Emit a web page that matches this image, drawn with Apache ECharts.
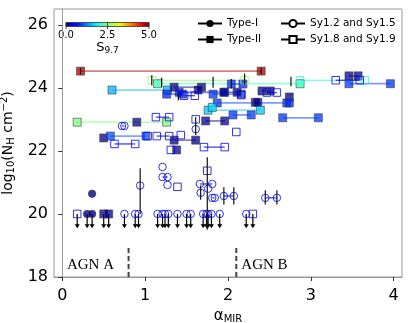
<!DOCTYPE html>
<html>
<head>
<meta charset="utf-8">
<script src="https://cdn.jsdelivr.net/npm/echarts@6/dist/echarts.min.js"></script>
<style>
html, body { margin: 0; padding: 0; background: #fff; }
#chart { width: 415px; height: 323px; }
</style>
</head>
<body>
<div id="chart"></div>
<script>
// sources: [alpha_1, alpha_2, log NH, S9.7]
var typeOne = [[0.36, 0.36, 20.64, 0.05]];
var typeTwo = [
  [0.22, 2.40, 24.53, 4.8], [1.15, 2.87, 24.13, 2.1], [0.60, 1.27, 23.93, 1.5],
  [1.35, 1.68, 24.02, 0.1], [1.26, 1.45, 23.80, 0.8], [1.41, 1.96, 23.86, 0.7],
  [1.64, 1.64, 23.93, 0.05], [2.04, 2.18, 24.12, 0.8], [1.82, 2.16, 23.80, 0.9],
  [1.95, 2.11, 23.86, 0.05], [2.41, 2.51, 23.90, 0.05], [2.74, 2.74, 23.71, 0.05],
  [1.87, 2.71, 23.52, 0.9], [2.33, 2.36, 23.54, 0.05], [2.74, 2.74, 23.52, 0.8],
  [1.76, 2.39, 23.29, 1.6], [1.81, 1.81, 23.38, 1.7], [2.06, 2.28, 23.14, 0.9],
  [2.66, 3.09, 23.05, 0.9], [3.46, 3.57, 24.38, 0.1], [3.46, 3.96, 24.13, 0.9],
  [0.18, 1.26, 22.91, 2.5], [0.90, 0.90, 22.91, 0.05], [1.73, 1.96, 22.95, 0.1],
  [0.50, 0.50, 22.41, 0.05], [0.58, 1.01, 22.47, 1.0], [1.38, 1.38, 22.03, 0.05],
  [1.35, 1.61, 22.34, 0.05]
];
var syOneFive = [
  [0.72, 0.75, 22.79, 0.4], [1.61, 1.61, 22.69, 0.2], [1.21, 1.21, 21.49, 0.4],
  [1.21, 1.27, 21.17, 0.4], [1.27, 1.27, 20.92, 0.4], [0.94, 0.94, 20.90, 0.4],
  [1.66, 1.81, 20.95, 0.5], [1.67, 1.67, 20.67, 0.4], [1.76, 1.76, 20.80, 0.4],
  [1.81, 1.84, 20.51, 0.4], [1.95, 2.07, 20.57, 0.5], [2.45, 2.59, 20.51, 0.5]
];
var syOneNine = [
  [1.08, 2.20, 24.24, 2.6], [2.87, 3.65, 24.24, 1.9], [3.30, 3.59, 24.24, 0.5],
  [1.47, 1.60, 23.75, 0.5], [2.16, 2.16, 23.77, 0.5], [2.47, 2.59, 23.85, 0.5],
  [1.13, 1.29, 23.07, 0.5], [1.61, 1.61, 23.00, 0.5], [1.14, 1.29, 22.47, 0.5],
  [1.43, 1.43, 22.50, 0.5], [1.03, 1.03, 22.47, 0.5], [0.63, 0.88, 22.22, 0.5],
  [1.31, 1.31, 22.03, 0.5], [1.71, 1.96, 22.12, 0.5], [2.10, 2.10, 22.60, 0.6],
  [1.75, 1.75, 21.37, 0.3], [1.39, 1.39, 20.86, 0.2]
];

// upper limits at log NH = 20: [alpha, S9.7]
var limitY = 20;
var arrowLen = 0.45;
var typeOneLim = [[0.30, 0.05], [0.36, 0.05]];
var typeTwoLim = [[0.50, 0.05], [0.56, 0.05]];
var syOneFiveLim = [
  [0.75, 0.4], [0.88, 0.4], [0.92, 0.4], [1.15, 0.4], [1.21, 0.4], [1.24, 0.4],
  [1.28, 0.4], [1.39, 0.4], [1.50, 0.4], [1.55, 0.4], [1.70, 0.4], [1.74, 0.4],
  [1.76, 0.4], [1.80, 0.4], [1.90, 0.4], [2.22, 0.4]
];
var syOneNineLim = [[0.18, 0.4], [2.30, 0.4]];

// vertical error bars: [alpha, low, high]
var yErr = [
  [0.22, 24.43, 24.63], [2.40, 24.43, 24.63], [1.08, 24.08, 24.40], [1.20, 24.02, 24.32],
  [2.20, 24.10, 24.45], [2.04, 23.98, 24.28], [1.82, 24.00, 24.35], [2.76, 24.05, 24.35],
  [1.40, 23.60, 23.90], [1.61, 22.50, 23.07], [0.94, 20.00, 21.45], [1.75, 19.50, 21.80],
  [1.67, 20.45, 20.90], [1.95, 20.30, 20.85], [2.07, 20.30, 20.85], [2.45, 20.30, 20.75],
  [2.59, 20.30, 20.75]
];

var regionX = [0.8, 2.1];
var regionNames = ['AGN A', 'AGN B'];
var regionLabelX = [0.34, 2.44];
var xTicks = [0, 1, 2, 3, 4];
var yTicks = [18, 20, 22, 24, 26];
var cbarTicks = [0, 2.5, 5];
var sMax = 5;

function jet(v) {
  var t = Math.max(0, Math.min(1, v / sMax));
  function seg(p) {
    for (var i = 1; i < p.length; i++) {
      if (t <= p[i][0]) {
        var f = (t - p[i - 1][0]) / (p[i][0] - p[i - 1][0]);
        return p[i - 1][1] + f * (p[i][1] - p[i - 1][1]);
      }
    }
    return p[p.length - 1][1];
  }
  var r = seg([[0, 0], [0.35, 0], [0.66, 1], [0.89, 1], [1, 0.5]]);
  var g = seg([[0, 0], [0.125, 0], [0.375, 1], [0.64, 1], [0.91, 0], [1, 0]]);
  var b = seg([[0, 0.5], [0.11, 1], [0.34, 1], [0.65, 0], [1, 0]]);
  return 'rgb(' + Math.round(r * 255) + ',' + Math.round(g * 255) + ',' + Math.round(b * 255) + ')';
}

function points(src, lim) {
  var out = [];
  src.forEach(function (r) {
    out.push([r[0], r[2], r[3]]);
    if (r[1] !== r[0]) out.push([r[1], r[2], r[3]]);
  });
  lim.forEach(function (r) { out.push([r[0], limitY, r[1]]); });
  return out;
}
function filledItems(pts) {
  return pts.map(function (p) { return { value: [p[0], p[1]], itemStyle: { color: jet(p[2]) } }; });
}
function openItems(pts) {
  return pts.map(function (p) { return { value: [p[0], p[1]], itemStyle: { borderColor: jet(p[2]) } }; });
}

var pairRows = [];
[[typeOne, 0], [typeTwo, 0], [syOneFive, 1], [syOneNine, 1]].forEach(function (g) {
  g[0].forEach(function (r) {
    if (r[1] !== r[0]) pairRows.push([r[0], r[1], r[2], r[3], g[1]]);
  });
});
var limitRows = [];
[typeOneLim, typeTwoLim, syOneFiveLim, syOneNineLim].forEach(function (l) {
  l.forEach(function (r) { limitRows.push([r[0], limitY]); });
});

var font = 'DejaVu Sans';
var stops = [];
for (var i = 0; i <= 20; i++) stops.push({ offset: i / 20, color: jet(i / 20 * sMax) });

var cbLeft = 66, cbTop = 22.5, cbW = 83, cbH = 4;
var graphics = [{
  type: 'rect', x: cbLeft, y: cbTop, shape: { width: cbW, height: cbH },
  style: { fill: new echarts.graphic.LinearGradient(0, 0, 1, 0, stops), stroke: '#333', lineWidth: 0.8 }
}];
cbarTicks.forEach(function (t) {
  var px = cbLeft + t / sMax * cbW;
  graphics.push({ type: 'line', shape: { x1: px, y1: cbTop, x2: px, y2: cbTop + cbH + 2.5 }, style: { stroke: '#333', lineWidth: 0.8 } });
  graphics.push({ type: 'text', x: px, y: 35, style: { text: t.toFixed(1), fontSize: 10, fontFamily: font, fill: '#000', align: 'center', verticalAlign: 'middle' } });
});
graphics.push({
  type: 'text', x: cbLeft + cbW / 2, y: 48,
  style: {
    text: '{a|S}{b|9.7}', fontFamily: font, fill: '#000', align: 'center', verticalAlign: 'middle',
    rich: { a: { fontSize: 13, lineHeight: 15, fontFamily: font }, b: { fontSize: 9, lineHeight: 7, verticalAlign: 'bottom', fontFamily: font } }
  }
});

var myChart = echarts.init(document.getElementById('chart'), null, { renderer: 'canvas' });

var option = {
  animation: false,
  grid: { left: 54, right: 13, top: 9, bottom: 46, containLabel: false, outerBoundsMode: 'none',
          show: true, borderColor: '#999', borderWidth: 1 },
  xAxis: {
    type: 'value', min: -0.1, max: 4.1,
    name: '{n|α}{s|MIR}', nameLocation: 'middle', nameGap: 25,
    nameTextStyle: {
      rich: { n: { fontSize: 15, lineHeight: 17, fontFamily: font, color: '#000' },
              s: { fontSize: 10, lineHeight: 8, verticalAlign: 'bottom', fontFamily: font, color: '#000' } }
    },
    axisLine: { show: true, lineStyle: { color: '#999' } },
    axisTick: { show: true, customValues: xTicks, length: 4, lineStyle: { color: '#333' } },
    axisLabel: { customValues: xTicks, fontSize: 16, fontFamily: font, color: '#000', margin: 11 },
    splitLine: { show: false }
  },
  yAxis: {
    type: 'value', min: 18, max: 26.5,
    name: '{n|log}{s|10}{n|(N}{s|H}{n| cm}{p|−2}{n|)}', nameLocation: 'middle', nameGap: 32,
    nameTextStyle: {
      rich: { n: { fontSize: 14, lineHeight: 17, fontFamily: font, color: '#000' },
              s: { fontSize: 10, lineHeight: 8, verticalAlign: 'bottom', fontFamily: font, color: '#000' },
              p: { fontSize: 10, lineHeight: 8, verticalAlign: 'top', fontFamily: font, color: '#000' } }
    },
    axisLine: { show: true, lineStyle: { color: '#999' } },
    axisTick: { show: true, customValues: yTicks, length: 4, lineStyle: { color: '#333' } },
    axisLabel: { customValues: yTicks, fontSize: 16, fontFamily: font, color: '#000', margin: 6 },
    splitLine: { show: false }
  },
  legend: [
    { left: 197, top: 18, orient: 'vertical', padding: 0, itemWidth: 24, itemHeight: 9, itemGap: 5,
      data: ['Type-I', 'Type-II'], textStyle: { fontSize: 10.5, fontFamily: font, color: '#000' } },
    { left: 280, top: 18, orient: 'vertical', padding: 0, itemWidth: 24, itemHeight: 9, itemGap: 5,
      data: ['Sy1.2 and Sy1.5', 'Sy1.8 and Sy1.9'], textStyle: { fontSize: 10.5, fontFamily: font, color: '#000' } }
  ],
  graphic: graphics,
  series: [
    { type: 'line', name: 'Type-I', data: [], symbol: 'circle', symbolSize: 7,
      lineStyle: { color: '#000', width: 1.2 }, itemStyle: { color: '#000' } },
    { type: 'line', name: 'Type-II', data: [], symbol: 'rect', symbolSize: 7,
      lineStyle: { color: '#000', width: 1.2 }, itemStyle: { color: '#000' } },
    { type: 'line', name: 'Sy1.2 and Sy1.5', data: [], symbol: 'circle', symbolSize: 7,
      lineStyle: { color: '#000', width: 1.2 }, itemStyle: { color: '#fff', borderColor: '#000', borderWidth: 1 } },
    { type: 'line', name: 'Sy1.8 and Sy1.9', data: [], symbol: 'rect', symbolSize: 7,
      lineStyle: { color: '#000', width: 1.2 }, itemStyle: { color: '#fff', borderColor: '#000', borderWidth: 1 } },
    {
      type: 'custom', name: 'pairs', data: pairRows, encode: { x: [0, 1], y: 2 }, z: 1, silent: true,
      renderItem: function (params, api) {
        var a = api.coord([api.value(0), api.value(2)]);
        var b = api.coord([api.value(1), api.value(2)]);
        var open = api.value(4) === 1;
        return { type: 'line', shape: { x1: a[0], y1: a[1], x2: b[0], y2: b[1] },
          style: { stroke: jet(api.value(3)), lineWidth: open ? 1.2 : 1.8, opacity: open ? 0.8 : 0.5 } };
      }
    },
    {
      type: 'custom', name: 'limits', data: limitRows, encode: { x: 0, y: 1 }, z: 2, silent: true,
      renderItem: function (params, api) {
        var top = api.coord([api.value(0), api.value(1)]);
        var tip = api.coord([api.value(0), api.value(1) - arrowLen]);
        return { type: 'group', children: [
          { type: 'line', shape: { x1: top[0], y1: top[1], x2: tip[0], y2: tip[1] - 2 }, style: { stroke: '#000', lineWidth: 1.2 } },
          { type: 'polygon', shape: { points: [[tip[0] - 2.5, tip[1] - 4], [tip[0] + 2.5, tip[1] - 4], [tip[0], tip[1]]] }, style: { fill: '#000' } }
        ] };
      }
    },
    { type: 'scatter', name: 't1', symbol: 'circle', symbolSize: 7.5, z: 3, data: filledItems(points(typeOne, typeOneLim)),
      itemStyle: { opacity: 0.8, borderColor: 'rgba(60,60,60,0.8)', borderWidth: 1 } },
    { type: 'scatter', name: 't2', symbol: 'rect', symbolSize: 8, z: 3, data: filledItems(points(typeTwo, typeTwoLim)),
      itemStyle: { opacity: 0.75, borderColor: 'rgba(60,60,60,0.8)', borderWidth: 1 } },
    { type: 'scatter', name: 's15', symbol: 'circle', symbolSize: 7.5, z: 3, data: openItems(points(syOneFive, syOneFiveLim)),
      itemStyle: { color: 'rgba(255,255,255,0)', borderWidth: 1, opacity: 0.8 } },
    { type: 'scatter', name: 's19', symbol: 'rect', symbolSize: 7.5, z: 3, data: openItems(points(syOneNine, syOneNineLim)),
      itemStyle: { color: 'rgba(255,255,255,0)', borderWidth: 1, opacity: 0.8 } },
    {
      type: 'custom', name: 'errors', data: yErr, encode: { x: 0, y: [1, 2] }, z: 4, silent: true,
      renderItem: function (params, api) {
        var lo = api.coord([api.value(0), api.value(1)]);
        var hi = api.coord([api.value(0), api.value(2)]);
        return { type: 'line', shape: { x1: lo[0], y1: lo[1], x2: hi[0], y2: hi[1] }, style: { stroke: '#111', lineWidth: 1.2 } };
      }
    },
    {
      type: 'custom', name: 'regions', data: regionX.map(function (x) { return [x, 18, 19]; }), encode: { x: 0, y: [1, 2] }, z: 4, silent: true,
      renderItem: function (params, api) {
        var lo = api.coord([api.value(0), api.value(1)]);
        var hi = api.coord([api.value(0), api.value(2)]);
        return { type: 'line', shape: { x1: lo[0], y1: lo[1], x2: hi[0], y2: hi[1] },
          style: { stroke: '#444', lineWidth: 2, lineDash: [5, 3] } };
      }
    },
    {
      type: 'custom', name: 'regionLabels', data: regionLabelX.map(function (x) { return [x, 18.37]; }), encode: { x: 0, y: 1 }, z: 4, silent: true,
      renderItem: function (params, api) {
        var p = api.coord([api.value(0), api.value(1)]);
        return { type: 'text', x: p[0], y: p[1],
          style: { text: regionNames[params.dataIndex], fontSize: 15, fontFamily: 'Liberation Serif', fill: '#000', align: 'center', verticalAlign: 'middle' } };
      }
    }
  ]
};

myChart.setOption(option);
window.addEventListener('resize', myChart.resize);
</script>
</body>
</html>
